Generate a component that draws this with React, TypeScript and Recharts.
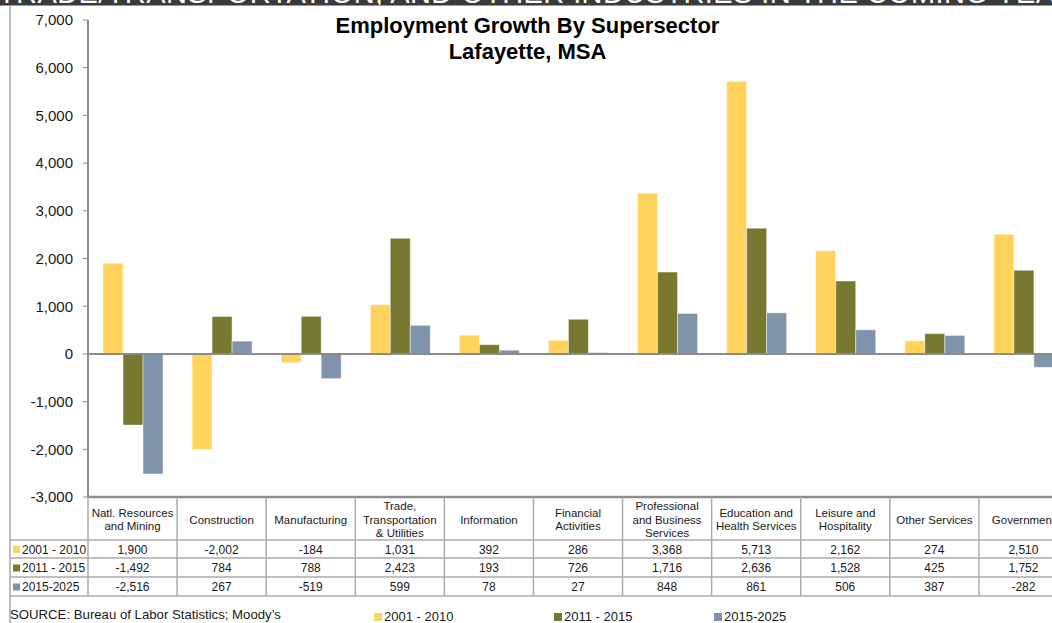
import React from "react";
import { BarChart, Bar, XAxis, YAxis, ReferenceLine } from "recharts";

const categories = [
  "Natl. Resources\nand Mining",
  "Construction",
  "Manufacturing",
  "Trade,\nTransportation\n& Utilities",
  "Information",
  "Financial\nActivities",
  "Professional\nand Business\nServices",
  "Education and\nHealth Services",
  "Leisure and\nHospitality",
  "Other Services",
  "Government",
];
const series2001 = [1900, -2002, -184, 1031, 392, 286, 3368, 5713, 2162, 274, 2510];
const series2011 = [-1492, 784, 788, 2423, 193, 726, 1716, 2636, 1528, 425, 1752];
const series2015 = [-2516, 267, -519, 599, 78, 27, 848, 861, 506, 387, -282];
const seriesNames = ["2001 - 2010", "2011 - 2015", "2015-2025"];
const seriesColors = ["#FFD35C", "#787830", "#7F93AA"];
const yTicks = [-3000, -2000, -1000, 0, 1000, 2000, 3000, 4000, 5000, 6000, 7000];
const titleLines = ["Employment Growth By Supersector", "Lafayette, MSA"];
const headerText = "TRADE/TRANSPORTATION, AND OTHER INDUSTRIES IN THE COMING YEARS";
const sourceText = "SOURCE: Bureau of Labor Statistics; Moody\u2019s";

const seriesValues = [series2001, series2011, series2015];
const data = categories.map((name, i) => ({
  name,
  s0: series2001[i],
  s1: series2011[i],
  s2: series2015[i],
}));

const FONT = "'Liberation Sans', Arial, Helvetica, sans-serif";
const CHART_W = 1080;
const CHART_H = 623;
const PLOT_LEFT = 88;
const PLOT_RIGHT = 1068;
const PLOT_TOP = 20;
const PLOT_BOTTOM = 497;
const BAND = (PLOT_RIGHT - PLOT_LEFT) / categories.length;
const HEADER_BOTTOM = 540;
const ROW_LINES = [540, 558, 577, 596];
const GRID = "#ABABAB";
const TABLE_LEFT = 10;

const fmt = (v: number) => {
  const s = Math.abs(v).toLocaleString("en-US");
  return v < 0 ? "-" + s : s;
};

function TableTick(props: any) {
  const { x, payload } = props;
  const idx =
    typeof payload?.index === "number" ? payload.index : categories.indexOf(payload?.value);
  const label: string = categories[idx] ?? String(payload?.value ?? "");
  const left = x - BAND / 2;
  const right = x + BAND / 2;
  const lines = label.split("\n");
  const headerMid = (PLOT_BOTTOM + HEADER_BOTTOM) / 2 + 1;
  const lh = 13.5;
  const firstY = headerMid - ((lines.length - 1) * lh) / 2;
  return (
    <g fontFamily={FONT}>
      <line x1={left} x2={left} y1={PLOT_BOTTOM} y2={ROW_LINES[3]} stroke={GRID} strokeWidth={1.5} />
      {idx === categories.length - 1 && (
        <line x1={right} x2={right} y1={PLOT_BOTTOM} y2={ROW_LINES[3]} stroke={GRID} strokeWidth={1.5} />
      )}
      {ROW_LINES.map((ly) => (
        <line key={ly} x1={left} x2={right} y1={ly} y2={ly} stroke={GRID} strokeWidth={1.5} />
      ))}
      {lines.map((ln, k) => (
        <text
          key={k}
          x={x}
          y={firstY + k * lh}
          textAnchor="middle"
          dominantBaseline="central"
          fontSize={11.5}
          fill="#1a1a1a"
        >
          {ln}
        </text>
      ))}
      {seriesValues.map((vals, r) => (
        <text
          key={r}
          x={x}
          y={(ROW_LINES[r] + ROW_LINES[r + 1]) / 2 + 0.5}
          textAnchor="middle"
          dominantBaseline="central"
          fontSize={12}
          fill="#1a1a1a"
        >
          {fmt(vals[idx])}
        </text>
      ))}
      {idx === 0 && (
        <g>
          {ROW_LINES.map((ly) => (
            <line key={"l" + ly} x1={TABLE_LEFT} x2={left} y1={ly} y2={ly} stroke={GRID} strokeWidth={1.5} />
          ))}
          {seriesNames.map((nm, r) => {
            const cy = (ROW_LINES[r] + ROW_LINES[r + 1]) / 2 + 0.5;
            return (
              <g key={nm}>
                <rect x={13} y={cy - 3.5} width={7} height={7} fill={seriesColors[r]} />
                <text x={22} y={cy} dominantBaseline="central" fontSize={12} fill="#1a1a1a">
                  {nm}
                </text>
              </g>
            );
          })}
        </g>
      )}
    </g>
  );
}

export default function App() {
  return (
    <div
      style={{
        position: "absolute",
        left: 0,
        top: 0,
        width: 1052,
        height: 623,
        overflow: "hidden",
        background: "#fff",
        fontFamily: FONT,
      }}
    >
      <div
        style={{
          position: "absolute",
          left: 0,
          top: 0,
          width: 1052,
          height: 5,
          background: "#3A3A3A",
          borderBottom: "1.5px solid #9A9A9A",
          overflow: "hidden",
        }}
      >
        <div
          style={{
            position: "absolute",
            left: -2,
            top: -21,
            whiteSpace: "nowrap",
            color: "#fff",
            fontSize: 29,
            lineHeight: "29px",
            letterSpacing: 0.4,
          }}
        >
          {headerText}
        </div>
      </div>
      <div
        style={{
          position: "absolute",
          left: 9,
          top: 6,
          width: 2,
          height: 617,
          background: "#BDBDBD",
        }}
      />
      <div style={{ position: "absolute", left: 0, top: 0 }}>
        <BarChart
          width={CHART_W}
          height={CHART_H}
          data={data}
          margin={{ top: PLOT_TOP, right: CHART_W - PLOT_RIGHT, bottom: 0, left: 0 }}
          barGap={0}
          barSize={20}
        >
          <XAxis
            dataKey="name"
            interval={0}
            height={CHART_H - PLOT_BOTTOM}
            tick={<TableTick />}
            tickLine={false}
            axisLine={{ stroke: "#8C8C8C", strokeWidth: 2.5 }}
          />
          <YAxis
            width={PLOT_LEFT}
            domain={[-3000, 7000]}
            ticks={yTicks}
            interval={0}
            tickFormatter={fmt}
            tickSize={5}
            tickMargin={10}
            tickLine={{ stroke: "#8C8C8C" }}
            axisLine={{ stroke: "#8C8C8C", strokeWidth: 2 }}
            tick={{ fontSize: 15, fill: "#1a1a1a", fontFamily: FONT }}
          />
          <ReferenceLine y={0} stroke="#8C8C8C" strokeWidth={2} />
          {["s0", "s1", "s2"].map((k, i) => (
            <Bar
              key={k}
              dataKey={k}
              name={seriesNames[i]}
              fill={seriesColors[i]}
              stroke="#ffffff"
              strokeOpacity={0.45}
              strokeWidth={1}
              isAnimationActive={false}
            />
          ))}
        </BarChart>
      </div>
      {titleLines.map((t, i) => (
        <div
          key={t}
          style={{
            position: "absolute",
            left: 0,
            width: 1055,
            top: 12 + i * 26,
            textAlign: "center",
            fontSize: 22,
            fontWeight: "bold",
            color: "#000",
            lineHeight: "28px",
          }}
        >
          {t}
        </div>
      ))}
      <div
        style={{
          position: "absolute",
          left: 10,
          top: 607,
          fontSize: 13.2,
          color: "#1a1a1a",
          whiteSpace: "nowrap",
          lineHeight: "16px",
        }}
      >
        {sourceText}
      </div>
      {seriesNames.map((nm, i) => (
        <div
          key={nm}
          style={{
            position: "absolute",
            left: [374, 554, 714][i],
            top: 609,
            fontSize: 13,
            color: "#1a1a1a",
            whiteSpace: "nowrap",
            lineHeight: "16px",
            display: "flex",
            alignItems: "center",
          }}
        >
          <span
            style={{
              display: "inline-block",
              width: 8,
              height: 8,
              background: seriesColors[i],
              marginRight: 2,
            }}
          />
          {nm}
        </div>
      ))}
    </div>
  );
}
